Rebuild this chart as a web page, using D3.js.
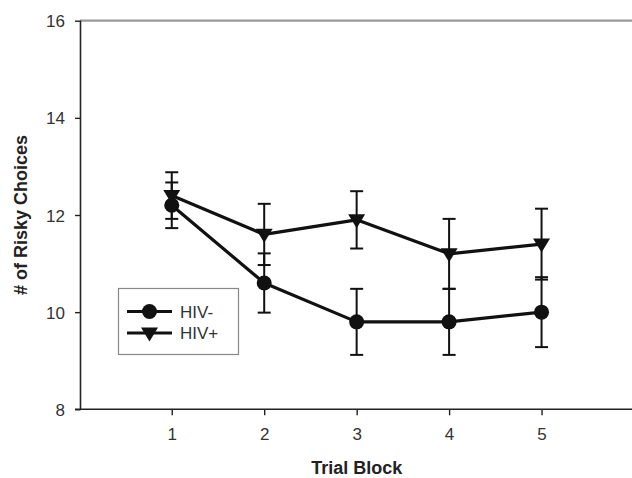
<!DOCTYPE html>
<html>
<head>
<meta charset="utf-8">
<script src="https://cdn.jsdelivr.net/npm/d3@7"></script>
<style>
  html, body { margin: 0; padding: 0; background: #fff; }
  svg { display: block; font-family: "Liberation Sans", Arial, sans-serif; }
</style>
</head>
<body>
<svg id="chart" width="632" height="478"></svg>
<script>
// ---- data ----
const trialBlocks = [1, 2, 3, 4, 5];
const hivNegMean = [12.2, 10.6, 9.8, 9.8, 10.0];
const hivNegErr  = [0.47, 0.61, 0.68, 0.68, 0.72];
const hivPosMean = [12.4, 11.6, 11.9, 11.2, 11.4];
const hivPosErr  = [0.48, 0.63, 0.59, 0.72, 0.73];
const yTicks = [8, 10, 12, 14, 16];
const xTicks = [1, 2, 3, 4, 5];
const seriesNames = ["HIV-", "HIV+"];
const xTitle = "Trial Block";
const yTitle = "# of Risky Choices";

const series = [
  { name: seriesNames[0], mean: hivNegMean, err: hivNegErr, shape: "circle" },
  { name: seriesNames[1], mean: hivPosMean, err: hivPosErr, shape: "triangle" }
];

const svg = d3.select("#chart");
const x = d3.scaleLinear().domain([0, 6]).range([79.3, 634]);
const y = d3.scaleLinear().domain([8, 16]).range([409.3, 20.7]);
const ink = "#111";
const textCol = "#333";

// top frame line (grey)
svg.append("line")
  .attr("x1", 80).attr("x2", 632)
  .attr("y1", y(16)).attr("y2", y(16))
  .attr("stroke", "#9a9a9a").attr("stroke-width", 2.2);

// axes
const yAxis = d3.axisLeft(y).tickValues(yTicks).tickSize(5.5).tickPadding(10).tickFormat(d3.format("d"));
const gy = svg.append("g").attr("transform", "translate(80.5,0)").call(yAxis);
gy.select(".domain").attr("stroke", "#222").attr("stroke-width", 1.6).attr("d", `M0,${y(16)}V${y(8)}`);
gy.selectAll(".tick line").attr("stroke", "#222").attr("stroke-width", 1.4);
gy.selectAll(".tick text").attr("fill", textCol).style("font-size", "17px").attr("dy", "0.36em");

const xAxis = d3.axisBottom(x).tickValues(xTicks).tickSize(6).tickPadding(13).tickFormat(d3.format("d"));
const gx = svg.append("g").attr("transform", `translate(0,${y(8)})`).call(xAxis);
gx.select(".domain").attr("stroke", "#222").attr("stroke-width", 1.6).attr("d", `M75,0H632`);
gx.selectAll(".tick line").attr("stroke", "#222").attr("stroke-width", 1.4);
gx.selectAll(".tick text").attr("fill", textCol).style("font-size", "17px");

// axis titles
svg.append("text")
  .attr("x", x(3)).attr("y", 473.5)
  .attr("text-anchor", "middle")
  .attr("fill", "#222")
  .style("font-size", "18px").style("font-weight", "bold")
  .text(xTitle);

svg.append("text")
  .attr("transform", `translate(27,${y(12)}) rotate(-90)`)
  .attr("text-anchor", "middle")
  .attr("fill", "#222")
  .style("font-size", "18px").style("font-weight", "bold")
  .text(yTitle);

// error bars
const capW = 6.5;
series.forEach(s => {
  const g = svg.append("g").attr("stroke", ink).attr("stroke-width", 2);
  trialBlocks.forEach((t, i) => {
    const cx = x(t), hi = y(s.mean[i] + s.err[i]), lo = y(s.mean[i] - s.err[i]);
    g.append("line").attr("x1", cx).attr("x2", cx).attr("y1", hi).attr("y2", lo);
    g.append("line").attr("x1", cx - capW).attr("x2", cx + capW).attr("y1", hi).attr("y2", hi);
    g.append("line").attr("x1", cx - capW).attr("x2", cx + capW).attr("y1", lo).attr("y2", lo);
  });
});

// lines
const line = d3.line().x((d, i) => x(trialBlocks[i])).y(d => y(d));
series.forEach(s => {
  svg.append("path").datum(s.mean)
    .attr("d", line).attr("fill", "none")
    .attr("stroke", ink).attr("stroke-width", 3.2).attr("stroke-linejoin", "round");
});

// markers
const triPath = (cx, cy, w, h) => `M${cx - w / 2},${cy - h * 0.4}L${cx + w / 2},${cy - h * 0.4}L${cx},${cy + h * 0.6}Z`;
function drawMarker(g, shape, cx, cy) {
  if (shape === "circle") {
    g.append("circle").attr("cx", cx).attr("cy", cy).attr("r", 7.5).attr("fill", ink);
  } else {
    g.append("path").attr("d", triPath(cx, cy, 17, 14)).attr("fill", ink);
  }
}
series.forEach(s => {
  const g = svg.append("g");
  trialBlocks.forEach((t, i) => drawMarker(g, s.shape, x(t), y(s.mean[i])));
});

// legend
const lg = svg.append("g");
lg.append("rect").attr("x", 118.5).attr("y", 288.5).attr("width", 120).attr("height", 66)
  .attr("fill", "#fff").attr("stroke", "#888").attr("stroke-width", 1.2);
series.forEach((s, i) => {
  const ly = 311.5 + i * 21.5;
  lg.append("line").attr("x1", 127).attr("x2", 172).attr("y1", ly).attr("y2", ly)
    .attr("stroke", ink).attr("stroke-width", 3.2);
  drawMarker(lg, s.shape, 149.5, ly);
  lg.append("text").attr("x", 180).attr("y", ly).attr("dy", "0.36em")
    .attr("fill", textCol).style("font-size", "17px").text(s.name);
});
</script>
</body>
</html>
